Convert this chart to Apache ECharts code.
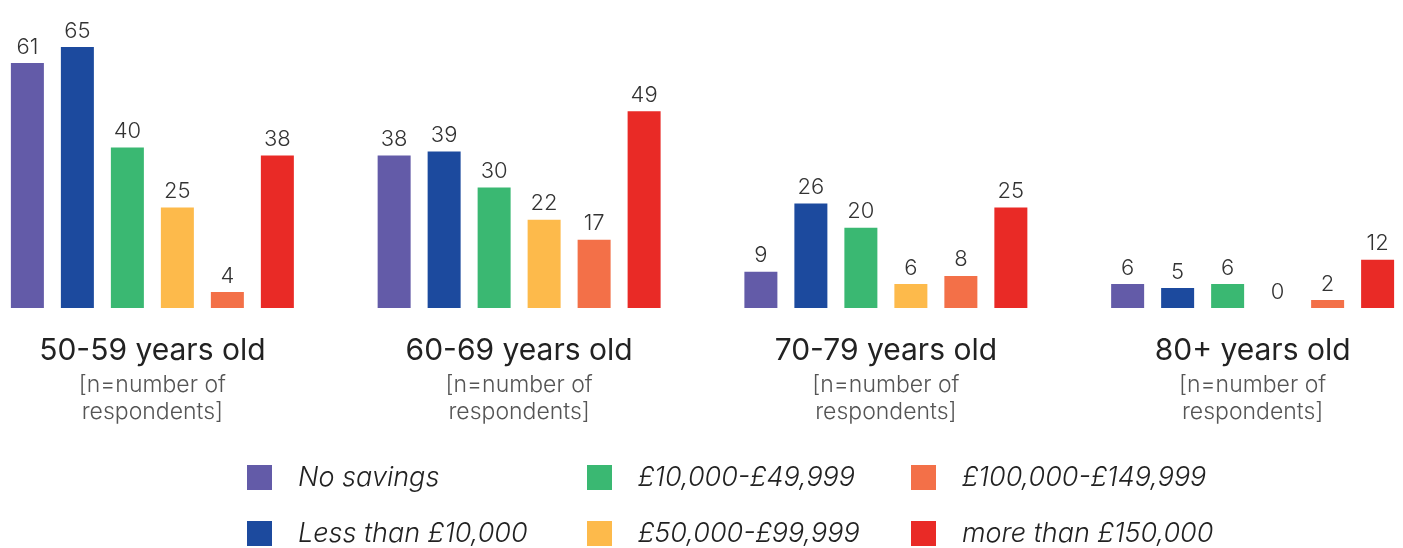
<!DOCTYPE html>
<html>
<head>
<meta charset="utf-8">
<script src="https://cdn.jsdelivr.net/npm/echarts@6/dist/echarts.min.js"></script>
<style>
  html, body { margin: 0; padding: 0; background: #fff; }
  #chart { width: 1403px; height: 548px; }
</style>
</head>
<body>
<div id="chart"></div>
<script>
// Age groups along the x axis
const ageGroups = ['50-59 years old', '60-69 years old', '70-79 years old', '80+ years old'];
const subLabel = ['[n=number of', 'respondents]'];

// Savings bands (series)
const bandNames = ['No savings', 'Less than £10,000', '£10,000-£49,999', '£50,000-£99,999', '£100,000-£149,999', 'more than £150,000'];
const bandColors = ['#635BA8', '#1C4A9E', '#3AB872', '#FDBA4B', '#F37048', '#E92A26'];

// Number of respondents per age group, one array per savings band
const noSavings = [61, 38, 9, 6];
const lessThan10k = [65, 39, 26, 5];
const from10kTo50k = [40, 30, 20, 6];
const from50kTo100k = [25, 22, 6, 0];
const from100kTo150k = [4, 17, 8, 2];
const moreThan150k = [38, 49, 25, 12];

const seriesValues = [noSavings, lessThan10k, from10kTo50k, from50kTo100k, from100kTo150k, moreThan150k];

const FONT = 'Inter, "Open Sans", sans-serif';

const chart = echarts.init(document.getElementById('chart'), null, { renderer: 'canvas' });

const series = bandNames.map((name, i) => ({
  name: name,
  type: 'bar',
  data: seriesValues[i],
  barWidth: 33,
  barGap: '51.5%',
  itemStyle: { color: bandColors[i] },
  label: {
    show: true,
    position: 'top',
    distance: 5,
    fontFamily: FONT,
    fontSize: 22,
    fontWeight: 300,
    color: '#333'
  }
}));

// Legend: three columns of two rows, filled column by column
const legendCols = [247, 587, 911];
const legendRowTops = [464, 520];
const legends = bandNames.map((name, i) => ({
  left: legendCols[Math.floor(i / 2)],
  top: legendRowTops[i % 2],
  height: 34,
  padding: 0,
  itemWidth: 25,
  itemHeight: 25,
  icon: 'rect',
  selectedMode: false,
  data: [name],
  textStyle: {
    fontFamily: FONT,
    fontSize: 27,
    fontStyle: 'italic',
    fontWeight: 300,
    color: '#222',
    padding: [0, 0, 0, 21]
  }
}));

chart.setOption({
  animation: false,
  backgroundColor: '#fff',
  grid: {
    left: -31, width: 1467, top: 47, bottom: 240,
    containLabel: false,
    outerBoundsMode: 'none'
  },
  xAxis: {
    type: 'category',
    data: ageGroups,
    axisLine: { show: false },
    axisTick: { show: false },
    splitLine: { show: false },
    axisLabel: {
      margin: 21,
      interval: 0,
      formatter: (v) => '{a|' + v + '}\n{b|' + subLabel[0] + '}\n{b|' + subLabel[1] + '}',
      rich: {
        a: { fontFamily: FONT, fontSize: 30, fontWeight: 400, color: '#222', lineHeight: 43 },
        b: { fontFamily: FONT, fontSize: 23, fontWeight: 300, color: '#555', lineHeight: 27 }
      }
    }
  },
  yAxis: {
    type: 'value',
    min: 0,
    max: 65,
    show: false,
    splitLine: { show: false }
  },
  legend: legends,
  series: series
});
</script>
</body>
</html>
